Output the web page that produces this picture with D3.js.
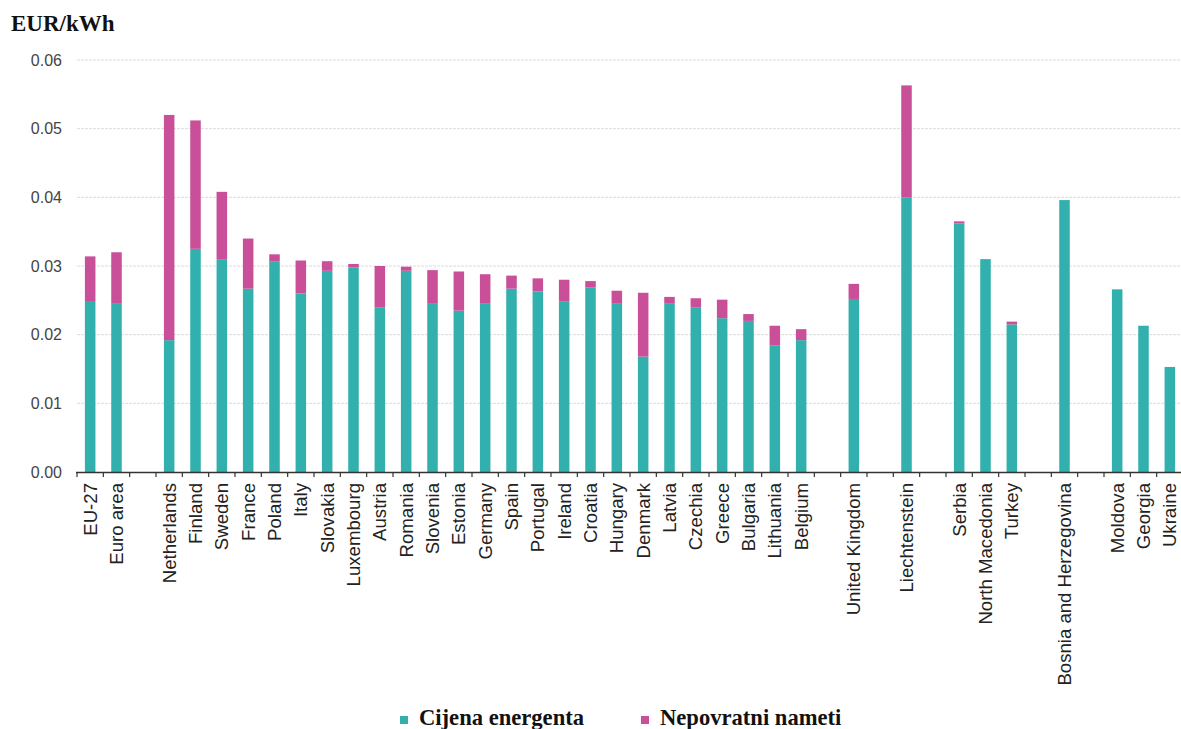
<!DOCTYPE html>
<html>
<head>
<meta charset="utf-8">
<script src="https://cdn.jsdelivr.net/npm/d3@7"></script>
<style>
  body { margin: 0; background: #fff; }
  svg { display: block; }
</style>
</head>
<body>
<svg id="chart" width="1181" height="729"></svg>
<script>
// empty strings are the blank slots between country groups
const categories = [
  'EU-27', 'Euro area', '',
  'Netherlands', 'Finland', 'Sweden', 'France', 'Poland', 'Italy', 'Slovakia', 'Luxembourg',
  'Austria', 'Romania', 'Slovenia', 'Estonia', 'Germany', 'Spain', 'Portugal', 'Ireland',
  'Croatia', 'Hungary', 'Denmark', 'Latvia', 'Czechia', 'Greece', 'Bulgaria', 'Lithuania',
  'Belgium', '',
  'United Kingdom', '',
  'Liechtenstein', '',
  'Serbia', 'North Macedonia', 'Turkey', '',
  'Bosnia and Herzegovina', '',
  'Moldova', 'Georgia', 'Ukraine'
];

const energyPrice = [
  0.0249, 0.0246, null,
  0.0192, 0.0325, 0.0310, 0.0267, 0.0307, 0.0260, 0.0293, 0.0298,
  0.0240, 0.0293, 0.0246, 0.0235, 0.0245, 0.0267, 0.0263, 0.0248,
  0.0269, 0.0245, 0.0168, 0.0245, 0.0240, 0.0224, 0.0220, 0.0184,
  0.0192, null,
  0.0252, null,
  0.0400, null,
  0.0362, 0.0310, 0.0215, null,
  0.0396, null,
  0.0266, 0.0213, 0.0153
];

const levies = [
  0.0065, 0.0074, null,
  0.0328, 0.0187, 0.0098, 0.0073, 0.0010, 0.0048, 0.0014, 0.0005,
  0.0060, 0.0006, 0.0048, 0.0057, 0.0043, 0.0019, 0.0019, 0.0032,
  0.0009, 0.0019, 0.0093, 0.0010, 0.0013, 0.0027, 0.0010, 0.0029,
  0.0016, null,
  0.0022, null,
  0.0163, null,
  0.0003, 0, 0.0004, null,
  0, null,
  0, 0, 0
];

const yTicks = [0, 0.01, 0.02, 0.03, 0.04, 0.05, 0.06];
const seriesNames = ['Cijena energenta', 'Nepovratni nameti'];
const seriesColors = ['#32b0ad', '#c84f98'];

const svg = d3.select('#chart');
const margin = { left: 77, right: 1183, top: 60, bottom: 472 };

const slots = categories.map((d, i) => `s${i}`);
const rows = categories.map((name, i) => ({
  slot: slots[i],
  name,
  energy: energyPrice[i] || 0,
  levies: levies[i] || 0
})).filter((d) => d.name !== '');

const x = d3.scaleBand().domain(slots).range([margin.left, margin.right]).padding(0);
const y = d3.scaleLinear().domain([0, 0.06]).range([margin.bottom, margin.top]);

const barW = x.bandwidth() * 0.4;
const barOff = (x.bandwidth() - barW) / 2;

// grid
svg.append('g')
  .selectAll('line')
  .data(yTicks.slice(1))
  .join('line')
  .attr('x1', margin.left)
  .attr('x2', 1181)
  .attr('y1', (d) => y(d))
  .attr('y2', (d) => y(d))
  .attr('stroke', '#dcdcdc')
  .attr('stroke-dasharray', '3,1')
  .attr('stroke-width', 1);

// y tick labels
svg.append('g')
  .selectAll('text')
  .data(yTicks)
  .join('text')
  .attr('x', 62)
  .attr('y', (d) => y(d))
  .attr('dy', '0.35em')
  .attr('text-anchor', 'end')
  .attr('font-family', 'Liberation Sans, Arial, sans-serif')
  .attr('font-size', 16)
  .attr('fill', '#444')
  .text((d) => d3.format('.2f')(d));

// stacked bars
const stack = d3.stack().keys(['energy', 'levies']);
const layers = stack(rows);

svg.append('g')
  .selectAll('g')
  .data(layers)
  .join('g')
  .attr('fill', (d, i) => seriesColors[i])
  .selectAll('rect')
  .data((d) => d)
  .join('rect')
  .attr('x', (d) => x(d.data.slot) + barOff)
  .attr('width', barW)
  .attr('y', (d) => y(d[1]))
  .attr('height', (d) => y(d[0]) - y(d[1]));

// x axis with ticks on slot boundaries
const axis = svg.append('g');
axis.append('line')
  .attr('x1', margin.left - 1)
  .attr('x2', margin.right)
  .attr('y1', margin.bottom + 0.5)
  .attr('y2', margin.bottom + 0.5)
  .attr('stroke', '#333')
  .attr('stroke-width', 1.5);

axis.selectAll('.tick')
  .data(slots)
  .join('line')
  .attr('class', 'tick')
  .attr('x1', (d) => x(d))
  .attr('x2', (d) => x(d))
  .attr('y1', margin.bottom)
  .attr('y2', margin.bottom + 5)
  .attr('stroke', '#333')
  .attr('stroke-width', 1.2);

axis.selectAll('.xlabel')
  .data(rows)
  .join('text')
  .attr('class', 'xlabel')
  .attr('transform', (d) => `translate(${x(d.slot) + x.bandwidth() / 2},${margin.bottom + 11}) rotate(-90)`)
  .attr('dy', '0.35em')
  .attr('text-anchor', 'end')
  .attr('font-family', 'Liberation Sans, Arial, sans-serif')
  .attr('font-size', 18.6)
  .attr('fill', '#222')
  .text((d) => d.name);

// unit title
svg.append('text')
  .attr('x', 11)
  .attr('y', 31)
  .attr('font-family', 'Liberation Serif, Times New Roman, serif')
  .attr('font-weight', 'bold')
  .attr('font-size', 23)
  .attr('fill', '#111')
  .text('EUR/kWh');

// legend
const legendX = [400, 641];
const legend = svg.append('g')
  .selectAll('g')
  .data(seriesNames)
  .join('g')
  .attr('transform', (d, i) => `translate(${legendX[i]},0)`);

legend.append('rect')
  .attr('x', 0)
  .attr('y', 716)
  .attr('width', 8)
  .attr('height', 8)
  .attr('fill', (d, i) => seriesColors[i]);

legend.append('text')
  .attr('x', 19)
  .attr('y', 725)
  .attr('font-family', 'Liberation Serif, Times New Roman, serif')
  .attr('font-weight', 'bold')
  .attr('font-size', 22.6)
  .attr('fill', '#111')
  .text((d) => d);
</script>
</body>
</html>
